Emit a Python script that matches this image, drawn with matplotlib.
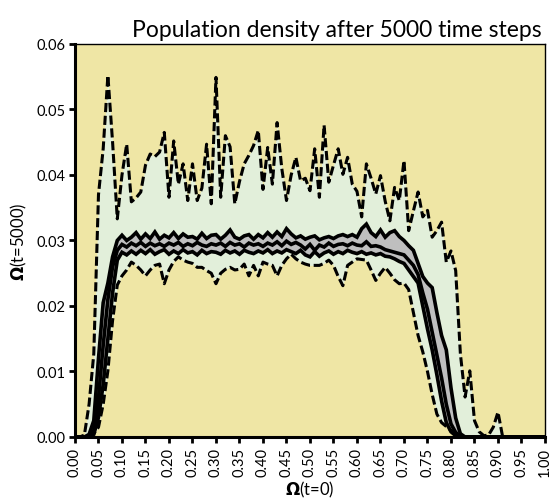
import matplotlib
matplotlib.use("Agg")
import matplotlib.pyplot as plt
import numpy as np

# x positions (initial density Omega at t=0)
omega0 = np.round(np.arange(0, 101) * 0.01, 2)

# upper envelope (dashed)
dens_max = [
    0, 0, 0.0003, 0.005, 0.0127, 0.037, 0.044, 0.0552, 0.045, 0.0333,
    0.040, 0.0447, 0.0359, 0.0365, 0.0374, 0.0415, 0.0432, 0.0428, 0.0435, 0.0465,
    0.0366, 0.0452, 0.0386, 0.0417, 0.0361, 0.0417, 0.0361, 0.0380, 0.0447, 0.0356,
    0.0549, 0.0366, 0.0460, 0.0443, 0.0356, 0.0390, 0.0417, 0.0430, 0.0445, 0.0468,
    0.0378, 0.0442, 0.0386, 0.0480, 0.0410, 0.0361, 0.0400, 0.0427, 0.0391, 0.0395,
    0.0376, 0.0440, 0.0366, 0.0476, 0.0389, 0.0415, 0.0440, 0.0401, 0.0427, 0.0386,
    0.0375, 0.0336, 0.0417, 0.0395, 0.0371, 0.0399, 0.0360, 0.0330, 0.0381, 0.0361,
    0.0422, 0.0315, 0.0345, 0.0374, 0.0336, 0.0346, 0.0305, 0.0315, 0.0328, 0.0267,
    0.0284, 0.0254, 0.0127, 0.0061, 0.0101, 0.0025, 0.0008, 0.0002, 0.0003, 0.0015,
    0.0038, 0, 0, 0, 0, 0, 0, 0, 0, 0, 0,
]

# lower envelope (dashed)
dens_min = [
    0, 0, 0, 0.0002, 0.0005, 0.0015, 0.005, 0.0101, 0.0178, 0.0232,
    0.0246, 0.0255, 0.0267, 0.0262, 0.0255, 0.0246, 0.0255, 0.0262, 0.0264, 0.0234,
    0.0255, 0.0268, 0.0275, 0.0270, 0.0267, 0.0265, 0.0259, 0.0259, 0.0254, 0.0250,
    0.0234, 0.0250, 0.0256, 0.0259, 0.0255, 0.0256, 0.0264, 0.0246, 0.0262, 0.0246,
    0.0267, 0.0264, 0.0262, 0.0246, 0.0262, 0.0272, 0.0279, 0.0272, 0.0267, 0.0264,
    0.0262, 0.0262, 0.0262, 0.0265, 0.0270, 0.0262, 0.0245, 0.0231, 0.0262, 0.0267,
    0.0272, 0.0271, 0.0270, 0.0255, 0.0239, 0.0250, 0.0259, 0.0250, 0.0240, 0.0234,
    0.0235, 0.0225, 0.0190, 0.0155, 0.0130, 0.0100, 0.0065, 0.0035, 0.0022, 0.0016,
    0.0010, 0.0005, 0, 0, 0, 0, 0, 0, 0, 0,
    0, 0, 0, 0, 0, 0, 0, 0, 0, 0, 0,
]

# upper quartile (solid)
dens_q3 = [
    0, 0, 0, 0.0004, 0.0025, 0.012, 0.0205, 0.0235, 0.0275, 0.0300,
    0.0308, 0.0300, 0.0305, 0.0312, 0.0302, 0.0310, 0.0303, 0.0313, 0.0302, 0.0308,
    0.0304, 0.0312, 0.0303, 0.0310, 0.0305, 0.0306, 0.0302, 0.0311, 0.0303, 0.0308,
    0.0309, 0.0302, 0.0308, 0.0316, 0.0305, 0.0302, 0.0307, 0.0309, 0.0302, 0.0309,
    0.0304, 0.0312, 0.0305, 0.0313, 0.0306, 0.0318, 0.0310, 0.0304, 0.0307, 0.0302,
    0.0305, 0.0307, 0.0301, 0.0304, 0.0306, 0.0303, 0.0307, 0.0309, 0.0306, 0.0309,
    0.0305, 0.0318, 0.0325, 0.0312, 0.0306, 0.0316, 0.0305, 0.0312, 0.0315, 0.0306,
    0.0300, 0.0292, 0.0285, 0.0265, 0.0245, 0.0235, 0.0228, 0.0190, 0.0155, 0.0133,
    0.0075, 0.0029, 0.0005, 0, 0, 0, 0, 0, 0, 0,
    0, 0, 0, 0, 0, 0, 0, 0, 0, 0, 0,
]

# median (solid)
dens_med = [
    0, 0, 0, 0, 0.0010, 0.0060, 0.0140, 0.0210, 0.0260, 0.0285,
    0.0294, 0.0290, 0.0296, 0.0292, 0.0297, 0.0291, 0.0296, 0.0292, 0.0295, 0.0291,
    0.0296, 0.0293, 0.0297, 0.0291, 0.0295, 0.0292, 0.0297, 0.0293, 0.0291, 0.0295,
    0.0293, 0.0296, 0.0291, 0.0297, 0.0293, 0.0295, 0.0290, 0.0296, 0.0293, 0.0295,
    0.0291, 0.0296, 0.0293, 0.0298, 0.0292, 0.0299, 0.0294, 0.0297, 0.0293, 0.0287,
    0.0294, 0.0285, 0.0293, 0.0290, 0.0296, 0.0291, 0.0294, 0.0295, 0.0292, 0.0296,
    0.0293, 0.0292, 0.0298, 0.0291, 0.0292, 0.0290, 0.0286, 0.0284, 0.0282, 0.0280,
    0.0278, 0.0270, 0.0262, 0.0248, 0.0220, 0.0195, 0.0160, 0.0125, 0.0090, 0.0050,
    0.0020, 0.0007, 0.0001, 0, 0, 0, 0, 0, 0, 0,
    0, 0, 0, 0, 0, 0, 0, 0, 0, 0, 0,
]

# lower quartile (solid)
dens_q1 = [
    0, 0, 0, 0, 0.0004, 0.0030, 0.0080, 0.0150, 0.0220, 0.0270,
    0.0282, 0.0278, 0.0284, 0.0279, 0.0285, 0.0280, 0.0286, 0.0279, 0.0283, 0.0286,
    0.0279, 0.0284, 0.0280, 0.0286, 0.0281, 0.0283, 0.0278, 0.0285, 0.0280, 0.0283,
    0.0282, 0.0279, 0.0285, 0.0281, 0.0284, 0.0279, 0.0285, 0.0282, 0.0280, 0.0284,
    0.0281, 0.0286, 0.0280, 0.0284, 0.0281, 0.0286, 0.0283, 0.0280, 0.0285, 0.0278,
    0.0275, 0.0283, 0.0276, 0.0281, 0.0284, 0.0279, 0.0283, 0.0280, 0.0285, 0.0282,
    0.0280, 0.0283, 0.0279, 0.0281, 0.0278, 0.0280, 0.0276, 0.0275, 0.0272, 0.0268,
    0.0265, 0.0255, 0.0245, 0.0235, 0.0200, 0.0165, 0.0133, 0.0095, 0.0055, 0.0022,
    0.0008, 0.0002, 0, 0, 0, 0, 0, 0, 0, 0,
    0, 0, 0, 0, 0, 0, 0, 0, 0, 0, 0,
]

x_ticks = np.round(np.arange(0, 21) * 0.05, 2)
y_ticks = np.round(np.arange(0, 7) * 0.01, 2)

plt.rcParams["font.family"] = ["Lato", "DejaVu Sans"]

fig = plt.figure(figsize=(5.53, 5.02), dpi=100)
ax = fig.add_axes([0.1356, 0.1275, 0.8499, 0.7829])
ax.set_facecolor("#EFE6A5")

ax.fill_between(omega0, dens_min, dens_max, color="#E2EFDA", lw=0, zorder=1)
ax.fill_between(omega0, dens_q1, dens_q3, color="#BFBFBF", lw=0, zorder=2)

dash = (0, (3, 1.2))
ax.plot(omega0, dens_max, color="black", lw=2.2, linestyle=dash, zorder=3)
ax.plot(omega0, dens_min, color="black", lw=2.2, linestyle=dash, zorder=3)
for series in (dens_q3, dens_med, dens_q1):
    ax.plot(omega0, series, color="black", lw=2.6, solid_joinstyle="miter", zorder=4)

ax.set_xlim(0, 1)
ax.set_ylim(0, 0.06)
ax.set_xticks(x_ticks)
ax.set_xticklabels([f"{v:.2f}" for v in x_ticks], rotation=90)
ax.set_yticks(y_ticks)
ax.set_yticklabels([f"{v:.2f}" for v in y_ticks])
ax.tick_params(axis="both", direction="out", length=4, width=2, labelsize=10.5, pad=3)

for side in ("left", "bottom"):
    ax.spines[side].set_linewidth(2.2)
for side in ("top", "right"):
    ax.spines[side].set_linewidth(1)

ax.set_xlabel(r"$\mathbf{\Omega}$(t=0)", fontsize=12, labelpad=2)
ax.set_ylabel(r"$\mathbf{\Omega}$(t=5000)", fontsize=12, labelpad=5)
ax.set_title("Population density after 5000 time steps", fontsize=16.5, pad=6, x=0.557)

fig.savefig("out.png", dpi=100, facecolor="white")
